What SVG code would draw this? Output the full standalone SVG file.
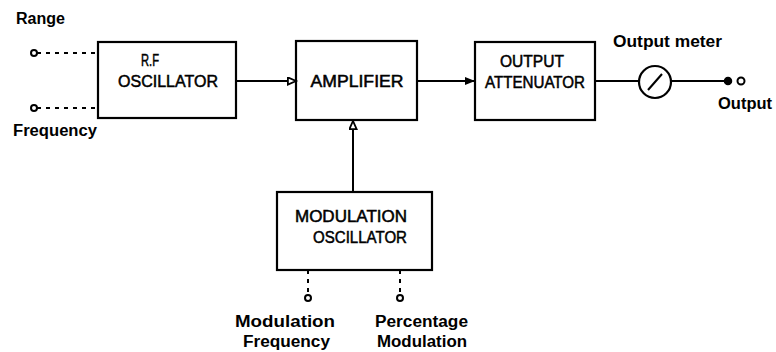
<svg xmlns="http://www.w3.org/2000/svg" width="776" height="352" viewBox="0 0 776 352">
<style>
.box{fill:none;stroke:#000;stroke-width:2.2}
.ln{fill:none;stroke:#000;stroke-width:2}
.dash{fill:none;stroke:#000;stroke-width:2;stroke-dasharray:4 5}
.t{font-family:"Liberation Sans",Arial,sans-serif;font-size:16px;fill:#000;stroke:#000;stroke-width:0.5;text-anchor:middle}
.l{font-family:"Liberation Sans",Arial,sans-serif;font-size:16px;font-weight:bold;fill:#000}
.term{fill:#fff;stroke:#000;stroke-width:2}
</style>
<defs>
<marker id="ahbig" viewBox="0 0 10 10" refX="10" refY="5" markerWidth="14" markerHeight="10" orient="auto" markerUnits="userSpaceOnUse">
<path d="M0,1 L10,5 L0,9 z" fill="#000"/>
</marker>
<marker id="aho" viewBox="0 0 10 10" refX="10" refY="5" markerWidth="14" markerHeight="9" orient="auto" markerUnits="userSpaceOnUse">
<path d="M1,1 L10,5 L1,9 z" fill="#fff" stroke="#000" stroke-width="2"/>
</marker>
</defs>

<g id="connectors">
<line class="ln" x1="236" y1="81" x2="296" y2="81" marker-end="url(#aho)"/>
<line class="ln" x1="417" y1="81" x2="475" y2="81" marker-end="url(#ahbig)"/>
<line class="ln" x1="595" y1="81" x2="639" y2="81"/>
<line class="ln" x1="671" y1="81" x2="725" y2="81"/>
<line class="ln" x1="353" y1="192" x2="353" y2="121" marker-end="url(#aho)"/>
<line class="dash" x1="37" y1="53" x2="98" y2="53"/>
<line class="dash" x1="37" y1="108" x2="98" y2="108"/>
<line class="dash" x1="308" y1="270" x2="308" y2="295"/>
<line class="dash" x1="400" y1="270" x2="400" y2="295"/>
</g>

<g id="range-in">
<circle class="term" cx="34" cy="53" r="3"/>
<text class="l" x="16" y="24" textLength="49" lengthAdjust="spacingAndGlyphs">Range</text>
</g>
<g id="frequency-in">
<circle class="term" cx="34" cy="108" r="3"/>
<text class="l" x="13" y="136" textLength="84" lengthAdjust="spacingAndGlyphs">Frequency</text>
</g>

<g id="rf-oscillator">
<rect class="box" x="98" y="42" width="138" height="76"/>
<text class="t" x="150" y="66" textLength="18" lengthAdjust="spacingAndGlyphs">R.F</text>
<text class="t" x="168" y="87" textLength="100" lengthAdjust="spacingAndGlyphs">OSCILLATOR</text>
</g>

<g id="amplifier">
<rect class="box" x="296" y="41" width="121" height="79"/>
<text class="t" x="357" y="87" textLength="93" lengthAdjust="spacingAndGlyphs">AMPLIFIER</text>
</g>

<g id="output-attenuator">
<rect class="box" x="475" y="42" width="120" height="78"/>
<text class="t" x="532" y="67" textLength="64" lengthAdjust="spacingAndGlyphs">OUTPUT</text>
<text class="t" x="535" y="88" textLength="100" lengthAdjust="spacingAndGlyphs">ATTENUATOR</text>
</g>

<g id="output-meter">
<circle cx="655" cy="82" r="16" fill="none" stroke="#000" stroke-width="2.2"/>
<line class="ln" x1="648" y1="90" x2="662" y2="74"/>
<text class="l" x="613" y="47" textLength="109" lengthAdjust="spacingAndGlyphs">Output meter</text>
</g>

<g id="output">
<circle cx="728" cy="81" r="3.5" fill="#000" stroke="#000" stroke-width="1.5"/>
<circle class="term" cx="741" cy="81" r="3.5"/>
<text class="l" x="718" y="109" textLength="54" lengthAdjust="spacingAndGlyphs">Output</text>
</g>

<g id="modulation-oscillator">
<rect class="box" x="277" y="192" width="155" height="78"/>
<text class="t" x="351" y="222" textLength="112" lengthAdjust="spacingAndGlyphs">MODULATION</text>
<text class="t" x="360" y="243" textLength="94" lengthAdjust="spacingAndGlyphs">OSCILLATOR</text>
</g>

<g id="modulation-frequency">
<circle class="term" cx="308" cy="298" r="3"/>
<text class="l" x="235" y="327" textLength="100" lengthAdjust="spacingAndGlyphs">Modulation</text>
<text class="l" x="243" y="347" textLength="87" lengthAdjust="spacingAndGlyphs">Frequency</text>
</g>

<g id="percentage-modulation">
<circle class="term" cx="400" cy="298" r="3"/>
<text class="l" x="375" y="327" textLength="93" lengthAdjust="spacingAndGlyphs">Percentage</text>
<text class="l" x="377" y="347" textLength="90" lengthAdjust="spacingAndGlyphs">Modulation</text>
</g>
</svg>
